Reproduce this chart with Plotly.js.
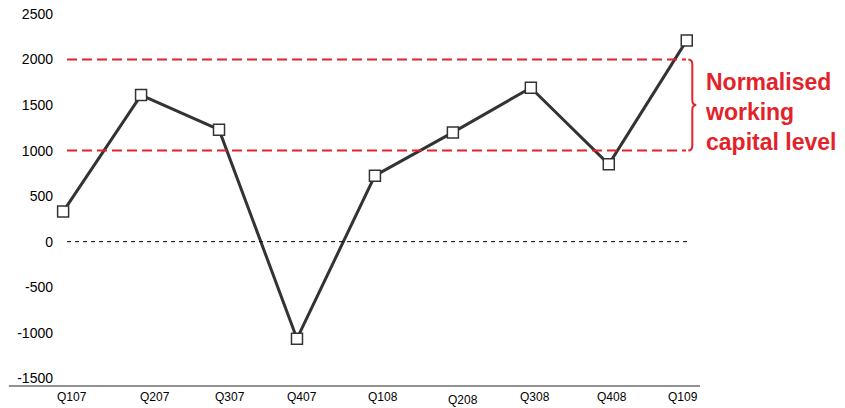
<!DOCTYPE html>
<html>
<head>
<meta charset="utf-8">
<script src="https://cdn.plot.ly/plotly-3.0.1.min.js"></script>
<style>html,body{margin:0;padding:0;background:#fff;}#chart{width:845px;height:408px;}</style>
</head>
<body>
<div id="chart"></div>
<script>
const quarters = ["Q107","Q207","Q307","Q407","Q108","Q208","Q308","Q408","Q109"];
const workingCapital = [330, 1610, 1230, -1065, 725, 1200, 1690, 850, 2210];
const normalisedHigh = 2000;
const normalisedLow = 1000;
const yTicks = [-1500, -1000, -500, 0, 500, 1000, 1500, 2000, 2500];
const noteText = "Normalised<br>working<br>capital level";

const red = "#e3232a";
const xIdx = quarters.map((q, i) => i);
// slight horizontal offsets of the category labels (in category units) as in the source
const labelShift = [0.12, 0.18, 0.14, 0.06, 0.1, 0.13, 0.05, 0.04, -0.05];
const labelDrop = [0, 0, 0, 0, 0, 3, 0, 0, 0];

const trace = {
  x: xIdx,
  y: workingCapital,
  type: "scatter",
  mode: "lines+markers",
  line: {color: "#333333", width: 3},
  marker: {symbol: "square", size: 11, color: "#ffffff", line: {color: "#333333", width: 1.5}},
  hoverinfo: "skip",
  cliponaxis: false
};

const xLabelAnns = quarters.map((q, i) => ({
  xref: "x", yref: "paper", x: xIdx[i] + labelShift[i], y: 0,
  xanchor: "center", yanchor: "top", yshift: -2 - labelDrop[i],
  showarrow: false, text: q,
  font: {size: 12, color: "#000", family: "Liberation Sans, Arial, sans-serif"}
}));

const layout = {
  width: 845, height: 408,
  margin: {l: 60, r: 145, t: 14, b: 22},
  paper_bgcolor: "#ffffff", plot_bgcolor: "#ffffff",
  showlegend: false,
  font: {family: "Liberation Sans, Arial, sans-serif", color: "#000"},
  xaxis: {
    range: [-0.04, 8.17],
    tickvals: xIdx, ticktext: quarters.map(() => ""),
    showgrid: false, zeroline: false, showline: false,
    ticks: ""
  },
  yaxis: {
    range: [-1585, 2500],
    tickvals: yTicks,
    ticktext: yTicks.map(String),
    showgrid: false, zeroline: false, showline: false,
    ticks: "", ticklabelstandoff: 6,
    tickfont: {size: 14, color: "#000"}
  },
  shapes: [
    {type: "line", xref: "paper", yref: "paper", x0: -0.08, x1: 1, y0: 0, y1: 0,
     line: {color: "#6e6e6e", width: 1.5}},
    {type: "line", xref: "x", yref: "y", x0: 0.05, x1: 8.04, y0: 0, y1: 0,
     line: {color: "#000", width: 1, dash: "4px,4px"}},
    {type: "line", xref: "x", yref: "y", x0: 0.05, x1: 7.99, y0: normalisedHigh, y1: normalisedHigh,
     line: {color: red, width: 2, dash: "10px,5px"}},
    {type: "line", xref: "x", yref: "y", x0: 0.05, x1: 7.99, y0: normalisedLow, y1: normalisedLow,
     line: {color: red, width: 2, dash: "10px,5px"}}
  ],
  annotations: xLabelAnns.concat([
    {xref: "paper", yref: "y", x: 1.005, y: 1420, xanchor: "left", yanchor: "middle",
     align: "left", showarrow: false, text: noteText,
     font: {size: 23, color: red, family: "Liberation Sans, Arial, sans-serif", weight: "bold"}}
  ])
};

Plotly.newPlot("chart", [trace], layout, {staticPlot: true, displayModeBar: false}).then(function(gd){
  // curly brace between the two normalised levels, positioned via axis scales
  const xa = gd._fullLayout.xaxis, ya = gd._fullLayout.yaxis;
  const off = gd._fullLayout._size;
  const bx = off.l + xa.l2p(8.02);
  const yTop = off.t + ya.l2p(normalisedHigh);
  const yBot = off.t + ya.l2p(normalisedLow);
  const yMid = (yTop + yBot) / 2;
  const w = 4;
  const path = `M ${bx} ${yTop} Q ${bx+w} ${yTop} ${bx+w} ${yTop+5} L ${bx+w} ${yMid-5} Q ${bx+w} ${yMid} ${bx+2*w} ${yMid} Q ${bx+w} ${yMid} ${bx+w} ${yMid+5} L ${bx+w} ${yBot-5} Q ${bx+w} ${yBot} ${bx} ${yBot}`;
  const ns = "http://www.w3.org/2000/svg";
  const p = document.createElementNS(ns, "path");
  p.setAttribute("d", path);
  p.setAttribute("fill", "none");
  p.setAttribute("stroke", red);
  p.setAttribute("stroke-width", "2");
  gd.querySelector("svg.main-svg").appendChild(p);
});
</script>
</body>
</html>
